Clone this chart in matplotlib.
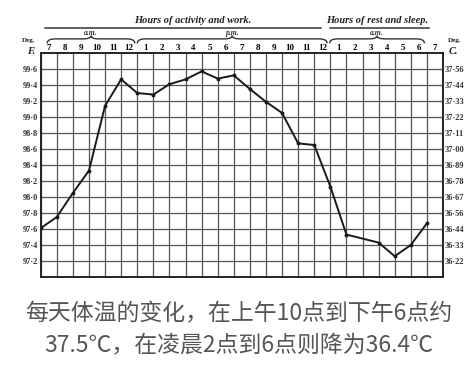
import matplotlib
matplotlib.use('Agg')
import matplotlib.pyplot as plt
from matplotlib.path import Path
from matplotlib.patches import PathPatch
import matplotlib.transforms as mtransforms

# Datos
hour_labels = ['7', '8', '9', '10', '11', '12',
               '1', '2', '3', '4', '5', '6', '7', '8', '9', '10', '11', '12',
               '1', '2', '3', '4', '5', '6', '7']
reading_pos = [0, 1, 2, 3, 4, 5, 6, 7, 8, 9, 10, 11, 12, 13, 14, 15, 16, 17, 18, 19,
               21, 22, 23, 24]
temp_f = [97.61, 97.75, 98.05, 98.33, 99.14, 99.47, 99.30, 99.28, 99.41, 99.47,
          99.57, 99.48, 99.52, 99.35, 99.19, 99.05, 98.67, 98.65, 98.13, 97.53,
          97.43, 97.26, 97.40, 97.67]
f_ticks = [99.6, 99.4, 99.2, 99.0, 98.8, 98.6, 98.4, 98.2, 98.0, 97.8, 97.6, 97.4, 97.2]
f_labels = ['99·6', '99·4', '99·2', '99·0', '98·8', '98·6', '98·4', '98·2',
            '98·0', '97·8', '97·6', '97·4', '97·2']
c_labels = ['37·56', '37·44', '37·33', '37·22', '37·11', '37·00', '36·89', '36·78',
            '36·67', '36·56', '36·44', '36·33', '36·22']
caption = '每天体温的变化，在上午10点到下午6点约\n37.5℃，在凌晨2点到6点则降为36.4℃'

num_font = 'Liberation Serif'
grid_col = '#555555'

fig = plt.figure(figsize=(4.77, 3.66), dpi=100)
ax = fig.add_axes([0.0853, 0.2432, 0.8434, 0.612])

ax.set_xlim(0, 25)
ax.set_ylim(97.0, 99.8)

# rejilla
ax.set_xticks(range(26), minor=True)
ax.set_yticks(f_ticks)
ax.grid(True, which='minor', axis='x', color=grid_col, linewidth=0.9)
ax.grid(True, which='major', axis='y', color=grid_col, linewidth=0.9)
ax.tick_params(which='minor', length=0)

# horas arriba
ax.set_xticks([i + 0.5 for i in range(25)])
ax.set_xticklabels(hour_labels, fontsize=6.5, fontfamily=num_font, fontweight='bold')
ax.xaxis.tick_top()
ax.tick_params(axis='x', which='major', length=0, pad=1)

ax.set_yticklabels(f_labels, fontsize=6, fontfamily=num_font, fontweight='bold',
                   color='#333333')
ax.tick_params(axis='y', length=0, pad=2)

ax2 = ax.twinx()
ax2.set_ylim(ax.get_ylim())
ax2.set_yticks(f_ticks)
ax2.set_yticklabels(c_labels, fontsize=6, fontfamily=num_font, fontweight='bold',
                    color='#333333')
ax2.tick_params(axis='y', length=0, pad=1)

for a in (ax, ax2):
    for s in a.spines.values():
        s.set_color('#222222')
        s.set_linewidth(1.2)

ax.plot(reading_pos, temp_f, color='#1a1a1a', linewidth=1.4, marker='o',
        markersize=1.8, zorder=5)

# cabecera
trans = mtransforms.blended_transform_factory(ax.transData, ax.transAxes)


def brace(x0, x1, y, h=0.02):
    xm = (x0 + x1) / 2
    d = 0.5
    verts = [(x0, y - h), (x0, y), (x0 + d, y),
             (xm - d, y), (xm, y), (xm, y + h * 0.7),
             (xm, y), (xm + d, y),
             (x1 - d, y), (x1, y), (x1, y - h)]
    codes = [Path.MOVETO, Path.CURVE3, Path.CURVE3,
             Path.LINETO, Path.CURVE3, Path.CURVE3,
             Path.CURVE3, Path.CURVE3,
             Path.LINETO, Path.CURVE3, Path.CURVE3]
    ax.add_patch(PathPatch(Path(verts, codes), transform=trans, fill=False,
                           edgecolor='#333333', linewidth=1.0, clip_on=False))


brace(0.4, 5.85, 1.063)
brace(6.0, 17.8, 1.063)
brace(17.95, 23.85, 1.063)

hdr = dict(transform=trans, ha='center', va='center', fontsize=5.5,
           fontfamily=num_font, style='italic', fontweight='bold', color='#333333')
ax.text(3.1, 1.09, 'a.m.', **hdr)
ax.text(11.9, 1.09, 'p.m.', **hdr)
ax.text(20.9, 1.09, 'a.m.', **hdr)

ax.plot([0.27, 17.45], [1.112, 1.112], transform=trans, color='#333333',
        linewidth=1.1, clip_on=False)
ax.plot([17.95, 24.15], [1.112, 1.112], transform=trans, color='#333333',
        linewidth=1.1, clip_on=False)

title_kw = dict(transform=trans, ha='center', va='center', fontsize=7.5,
                fontfamily=num_font, style='italic', fontweight='bold',
                color='#222222')
ax.text(9.45, 1.147, 'Hours of activity and work.', **title_kw)
ax.text(20.9, 1.147, 'Hours of rest and sleep.', **title_kw)

side_kw = dict(transform=ax.transAxes, ha='center', va='center',
               fontfamily=num_font, fontweight='bold', color='#222222')
ax.text(-0.03, 1.056, 'Deg.', fontsize=5, **side_kw)
ax.text(-0.025, 1.008, 'F.', fontsize=7.5, style='italic', **side_kw)
ax.text(1.03, 1.056, 'Deg.', fontsize=5, **side_kw)
ax.text(1.027, 1.008, 'C.', fontsize=7.5, style='italic', **side_kw)

fig.text(0.5, 0.10, caption, ha='center', va='center', fontsize=16.5,
         color='#555555', linespacing=1.4,
         family=['Noto Sans CJK SC', 'DejaVu Sans'])

fig.savefig('out.png', dpi=100)
